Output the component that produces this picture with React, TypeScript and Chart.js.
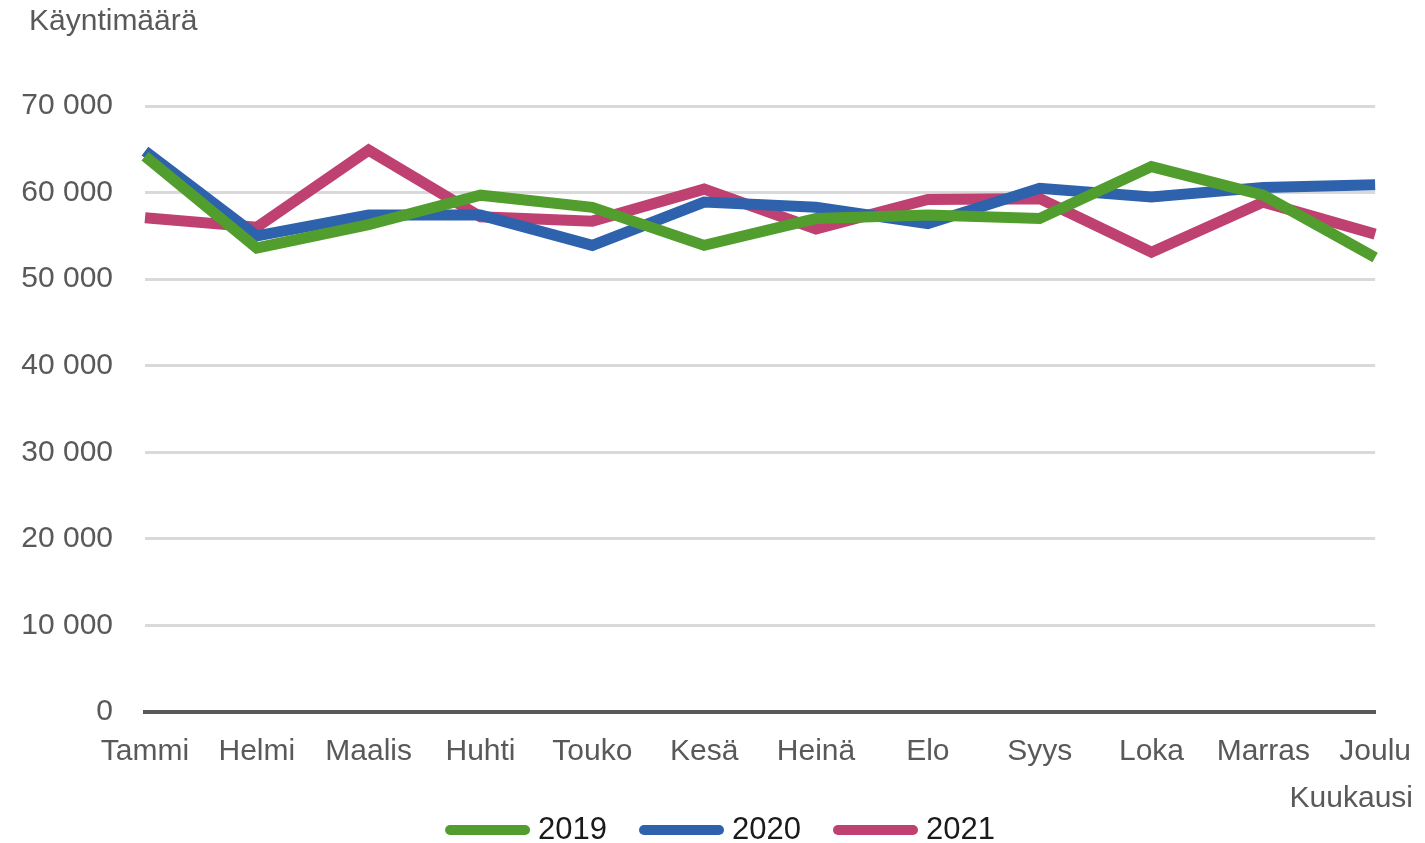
import React, { useEffect, useRef } from "react";
import { Chart, registerables } from "chart.js";

Chart.register(...registerables);

const months = ["Tammi", "Helmi", "Maalis", "Huhti", "Touko", "Kesä", "Heinä", "Elo", "Syys", "Loka", "Marras", "Joulu"];
const values2019 = [64200, 53600, 56300, 59700, 58300, 53900, 57000, 57400, 57000, 63000, 59700, 52500];
const values2020 = [64800, 55000, 57400, 57400, 53900, 58900, 58300, 56400, 60500, 59500, 60600, 60900];
const values2021 = [57100, 56000, 64900, 57200, 56700, 60400, 55800, 59200, 59300, 53100, 58900, 55200];
const seriesNames = ["2019", "2020", "2021"];
const seriesColors = ["#519e2f", "#2e62ac", "#bf4171"];
const yTitle = "Käyntimäärä";
const xTitle = "Kuukausi";

const FONT = "'Liberation Sans', Arial, sans-serif";
const GRAY = "#595959";

const fmt = (v: number) => String(v).replace(/\B(?=(\d{3})+(?!\d))/g, " ");

const titlesPlugin = {
  id: "titles",
  afterDraw(chart: any) {
    const ctx = chart.ctx;
    ctx.save();
    ctx.fillStyle = GRAY;
    ctx.font = `30px ${FONT}`;
    ctx.textBaseline = "middle";
    ctx.textAlign = "left";
    ctx.fillText(yTitle, 29, 22);
    ctx.textAlign = "right";
    ctx.fillText(xTitle, 1413, 799);

    // legend
    const ds = chart.data.datasets;
    ctx.font = `31px ${FONT}`;
    const lineLen = 85;
    const gapText = 8;
    const gapItem = 32;
    const widths = ds.map((d: any) => lineLen + gapText + ctx.measureText(d.label).width);
    const total = widths.reduce((a: number, b: number) => a + b, 0) + gapItem * (ds.length - 1);
    let x = 720 - total / 2;
    const y = 830;
    ds.forEach((d: any, i: number) => {
      ctx.strokeStyle = d.borderColor;
      ctx.lineWidth = 10;
      ctx.lineCap = "round";
      ctx.beginPath();
      ctx.moveTo(x + 5, y);
      ctx.lineTo(x + lineLen - 5, y);
      ctx.stroke();
      ctx.fillStyle = "#1a1a1a";
      ctx.textAlign = "left";
      ctx.fillText(d.label, x + lineLen + gapText, y);
      x += widths[i] + gapItem;
    });
    ctx.restore();
  },
};

export default function App() {
  const ref = useRef<HTMLCanvasElement | null>(null);
  useEffect(() => {
    document.body.style.margin = "0";
    const all = [values2019, values2020, values2021];
    const chart = new Chart(ref.current as HTMLCanvasElement, {
      type: "line",
      data: {
        labels: months,
        datasets: all.map((d, i) => ({
          label: seriesNames[i],
          data: d,
          borderColor: seriesColors[i],
          backgroundColor: seriesColors[i],
          borderWidth: 11,
          pointRadius: 0,
          tension: 0,
          fill: false,
        })),
      },
      options: {
        animation: false,
        responsive: true,
        maintainAspectRatio: false,
        layout: { padding: { top: 106, right: 46, bottom: 0, left: 0 } },
        scales: {
          x: {
            offset: false,
            grid: { display: false },
            border: { display: true, color: GRAY, width: 4 },
            ticks: { color: GRAY, font: { family: FONT, size: 30 }, padding: 14, maxRotation: 0, autoSkip: false },
            afterFit: (s: any) => { s.height = 131; },
          },
          y: {
            min: 0,
            max: 70000,
            grid: { color: "#d9d9d9", lineWidth: 3, drawTicks: false },
            border: { display: false },
            ticks: {
              stepSize: 10000,
              color: GRAY,
              font: { family: FONT, size: 30 },
              padding: 32,
              callback: (v: any) => fmt(Number(v)),
            },
            afterFit: (s: any) => { s.width = 145; },
          },
        },
        plugins: {
          legend: { display: false },
          tooltip: { enabled: false },
        },
      },
      plugins: [titlesPlugin],
    });
    return () => chart.destroy();
  }, []);
  return (
    <div style={{ position: "fixed", left: 0, top: 0, width: 1425, height: 843, background: "#fff" }}>
      <canvas ref={ref} />
    </div>
  );
}
